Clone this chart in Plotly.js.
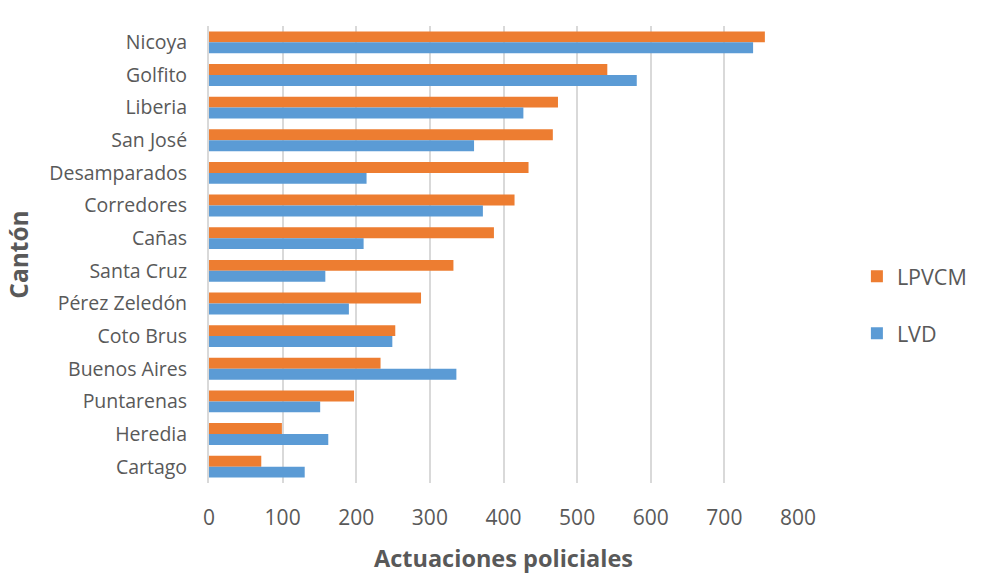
<!DOCTYPE html>
<html>
<head>
<meta charset="utf-8">
<script src="https://cdn.plot.ly/plotly-3.0.1.min.js"></script>
<style>html,body{margin:0;padding:0;background:#fff}#chart{width:996px;height:574px}</style>
</head>
<body>
<div id="chart"></div>
<script>
const categories = ["Nicoya","Golfito","Liberia","San José","Desamparados","Corredores","Cañas","Santa Cruz","Pérez Zeledón","Coto Brus","Buenos Aires","Puntarenas","Heredia","Cartago"];
const lpvcm = [755, 541, 474, 467, 434, 415, 387, 332, 288, 253, 233, 197, 99, 71];
const lvd   = [739, 581, 427, 360, 214, 372, 210, 158, 190, 249, 336, 151, 162, 130];
const xTicks = [0, 100, 200, 300, 400, 500, 600, 700, 800];

const fontFam = '"Open Sans", "Liberation Sans", sans-serif';
const grey = '#595959';

const traces = [
  {type:'bar', orientation:'h', name:'LPVCM', y:categories, x:lpvcm,
   marker:{color:'#ED7D31'}, legendgroup:'a', hoverinfo:'x+y'},
  {type:'bar', orientation:'h', name:'LVD', y:categories, x:lvd,
   marker:{color:'#5B9BD5'}, legendgroup:'b', hoverinfo:'x+y'}
];

const layout = {
  width:996, height:574,
  margin:{l:209, r:198, t:26, b:91},
  paper_bgcolor:'#fff', plot_bgcolor:'#fff',
  font:{family:fontFam, color:grey},
  barmode:'group', bargap:0.33, bargroupgap:0,
  xaxis:{range:[0,800], tickvals:xTicks, ticktext:xTicks.map(String),
    showgrid:true, gridcolor:'#D9D9D9', gridwidth:2, zeroline:false,
    showline:false, ticks:'', tickfont:{size:21, color:grey}, ticklabelstandoff:20,
    title:{text:'<b>Actuaciones policiales</b>', font:{size:23.5, color:grey}, standoff:22}},
  yaxis:{type:'category', autorange:'reversed', showgrid:false, zeroline:false,
    showline:true, linecolor:'#D9D9D9', linewidth:2, ticks:'', ticklabelstandoff:16,
    tickfont:{size:19.5, color:grey},
    title:{text:'<b>Cantón</b>', font:{size:24.5, color:grey}, standoff:14}},
  legend:{x:1.1, y:0.39, xanchor:'left', yanchor:'middle', tracegroupgap:26,
    font:{size:21.5, color:grey}, bgcolor:'rgba(0,0,0,0)'},
  showlegend:true
};

Plotly.newPlot('chart', traces, layout, {displayModeBar:false, staticPlot:true});
</script>
</body>
</html>
